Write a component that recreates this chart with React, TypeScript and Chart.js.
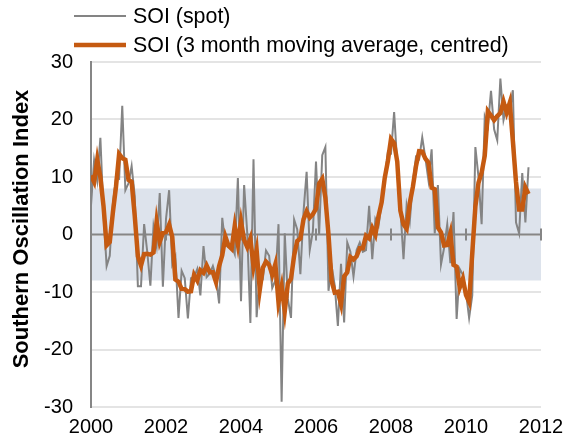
import React, { useEffect, useRef } from 'react';
import { Chart, registerables } from 'chart.js';

Chart.register(...registerables);

// Monthly SOI, Jan 2000 – Sep 2011
const startYear = 2000;
const spotSOI = [
  5.1, 12.9, 9.4, 16.8, 3.6, -5.5, -3.7, 5.3, 9.9, 9.7, 22.4, 7.7,
  8.9, 11.9, 6.7, -9.0, -9.0, 1.8, -3.0, -8.9, 1.4, -1.9, 7.2, -9.1,
  2.7, 7.7, -5.2, -3.8, -14.5, -6.3, -7.6, -14.6, -7.6, -7.4, -6.0, -10.6,
  -2.0, -7.4, -6.8, -5.5, -7.4, -12.0, 2.9, -1.8, -2.2, -1.9, -3.4, 9.8,
  -11.6, 8.6, 0.2, -15.4, 13.1, -14.4, -6.9, -7.6, -2.8, -3.7, -9.3, -8.0,
  1.8, -29.1, 0.2, -11.2, -14.5, 2.6, 0.9, -6.9, 3.9, 10.9, -2.7, 0.6,
  12.7, 0.1, 13.8, 15.2, -9.8, -5.5, -8.9, -15.9, -5.1, -15.3, -1.4, -3.0,
  -7.3, -2.7, -1.4, -3.0, -2.7, 5.0, -4.3, 2.7, 1.5, 5.4, 9.8, 14.4,
  14.1, 21.3, 12.2, 4.5, -4.3, 5.1, 2.2, 9.1, 13.5, 13.1, 16.9, 13.3,
  9.4, 14.8, 0.2, 8.6, -5.2, -2.3, 1.8, -5.0, 3.9, -14.7, -6.0, -7.0,
  -10.1, -14.5, -10.6, 15.2, 10.0, 1.8, 20.5, 18.8, 25.0, 18.3, 16.4, 27.1,
  19.9, 22.3, 21.4, 25.1, 2.1, 0.2, 10.7, 2.1, 11.7,
];
const movingAvgSOI = [
  10.27, 9.13, 13.03, 9.93, 4.97, -1.87, -1.3, 3.83, 8.3, 14.0, 13.27, 13.0,
  9.5, 9.17, 3.2, -3.77, -5.4, -3.4, -3.37, -3.5, -3.13, 2.23, -1.27, 0.27,
  0.43, 1.73, -0.43, -7.83, -8.2, -9.47, -9.5, -9.93, -9.87, -7.0, -8.0, -6.2,
  -6.67, -5.4, -6.57, -6.57, -8.3, -5.5, -3.63, -0.37, -1.97, -2.5, 1.5, -1.73,
  2.27, -0.93, -2.2, -0.7, -5.57, -2.73, -9.63, -5.77, -4.7, -5.27, -7.0, -5.17,
  -11.77, -9.03, -13.37, -8.5, -7.7, -3.67, -1.13, -0.7, 2.63, 4.03, 2.93, 3.53,
  4.47, 8.87, 9.7, 6.4, -0.03, -8.07, -10.1, -9.97, -12.1, -7.27, -6.57, -3.9,
  -4.33, -3.8, -2.37, -2.37, -0.23, -0.67, 1.13, -0.03, 3.2, 5.57, 9.87, 12.77,
  16.6, 15.87, 12.67, 4.13, 1.77, 1.0, 5.47, 8.27, 11.9, 14.5, 14.43, 13.2,
  12.5, 8.13, 7.87, 1.2, 0.37, -1.9, -1.83, 0.23, -5.27, -5.6, -9.23, -7.7,
  -10.53, -11.73, -3.3, 4.87, 9.0, 10.77, 13.7, 21.43, 20.7, 19.9, 20.6, 21.13,
  23.1, 21.2, 22.93, 16.2, 9.13, 4.33, 4.33, 8.17, 7.03,
];
const xTickYears = [2000, 2002, 2004, 2006, 2008, 2010, 2012];
const yRange = [-30, 30];
const bandLimits = [-8, 8];
const legendLabels = ['SOI (spot)', 'SOI (3 month moving average, centred)'];
const yTitle = 'Southern Oscillation Index';

const FONT = "'Liberation Sans', Arial, sans-serif";
const SPOT_COLOR = '#848484';
const MA_COLOR = '#c55a11';
const BAND_COLOR = '#dde3ec';
const AXIS_COLOR = '#868686';

const decorPlugin = {
  id: 'decor',
  beforeDraw(chart: any) {
    const { ctx, chartArea, scales } = chart;
    const y = scales.y;
    const top = y.getPixelForValue(bandLimits[1]);
    const bot = y.getPixelForValue(bandLimits[0]);
    ctx.save();
    ctx.fillStyle = BAND_COLOR;
    ctx.fillRect(chartArea.left, top, chartArea.right - chartArea.left, bot - top);
    ctx.restore();
  },
  beforeDatasetsDraw(chart: any) {
    const { ctx, chartArea, scales } = chart;
    const y0 = scales.y.getPixelForValue(0);
    ctx.save();
    ctx.strokeStyle = AXIS_COLOR;
    ctx.lineWidth = 2;
    ctx.beginPath();
    ctx.moveTo(chartArea.left, y0);
    ctx.lineTo(chartArea.right, y0);
    xTickYears.forEach((yr) => {
      const px = scales.x.getPixelForValue((yr - startYear) * 12);
      ctx.moveTo(px, y0 - 6);
      ctx.lineTo(px, y0 + 6);
    });
    ctx.stroke();
    ctx.restore();
  },
  afterDraw(chart: any) {
    const { ctx } = chart;
    ctx.save();
    const rows = [
      { y: 16, color: SPOT_COLOR, width: 2 },
      { y: 45, color: MA_COLOR, width: 4.5 },
    ];
    rows.forEach((r, i) => {
      ctx.strokeStyle = r.color;
      ctx.lineWidth = r.width;
      ctx.beginPath();
      ctx.moveTo(74, r.y);
      ctx.lineTo(126, r.y);
      ctx.stroke();
      ctx.fillStyle = '#000';
      ctx.font = `21.4px ${FONT}`;
      ctx.textAlign = 'left';
      ctx.textBaseline = 'middle';
      ctx.fillText(legendLabels[i], 133, r.y + 1);
    });
    ctx.translate(22, 229);
    ctx.rotate(-Math.PI / 2);
    ctx.font = `bold 22px ${FONT}`;
    ctx.textAlign = 'center';
    ctx.textBaseline = 'middle';
    ctx.fillStyle = '#000';
    ctx.fillText(yTitle, 0, 0);
    ctx.restore();
  },
};

export default function App() {
  const ref = useRef<HTMLCanvasElement | null>(null);
  useEffect(() => {
    if (!ref.current) return;
    const chart = new Chart(ref.current, {
      type: 'line',
      data: {
        datasets: [
          {
            label: legendLabels[1],
            data: movingAvgSOI.map((v, i) => ({ x: i, y: v })),
            borderColor: MA_COLOR,
            borderWidth: 4.5,
            pointRadius: 0,
            tension: 0,
            order: 0,
          },
          {
            label: legendLabels[0],
            data: spotSOI.map((v, i) => ({ x: i, y: v })),
            borderColor: SPOT_COLOR,
            borderWidth: 2,
            pointRadius: 0,
            tension: 0,
            order: 1,
          },
        ],
      },
      options: {
        responsive: false,
        animation: false,
        layout: { padding: { top: 62, right: 37, left: 0, bottom: 0 } },
        plugins: { legend: { display: false }, tooltip: { enabled: false } },
        scales: {
          x: {
            type: 'linear',
            min: 0,
            max: (xTickYears[xTickYears.length - 1] - startYear) * 12,
            grid: { display: false },
            border: { display: false },
            afterBuildTicks: (s: any) => {
              s.ticks = xTickYears.map((yr) => ({ value: (yr - startYear) * 12 }));
            },
            afterFit: (s: any) => {
              s.height = 36;
            },
            ticks: {
              autoSkip: false,
              maxRotation: 0,
              padding: 0,
              color: '#000',
              font: { family: FONT, size: 20 },
              callback: (v: any) => String(startYear + Math.round(Number(v) / 12)),
            },
          },
          y: {
            min: yRange[0],
            max: yRange[1],
            afterFit: (s: any) => {
              s.width = 91;
            },
            grid: { color: '#e4e4e4', lineWidth: 2, drawTicks: false },
            border: { display: true, color: AXIS_COLOR, width: 2 },
            ticks: {
              stepSize: 10,
              padding: 18,
              color: '#000',
              font: { family: FONT, size: 20 },
            },
          },
        },
      },
      plugins: [decorPlugin],
    });
    return () => chart.destroy();
  }, []);
  return (
    <div style={{ position: 'fixed', left: 0, top: 0, width: 578, height: 443, background: '#fff' }}>
      <canvas ref={ref} width={578} height={443} style={{ width: 578, height: 443, display: 'block' }} />
    </div>
  );
}
